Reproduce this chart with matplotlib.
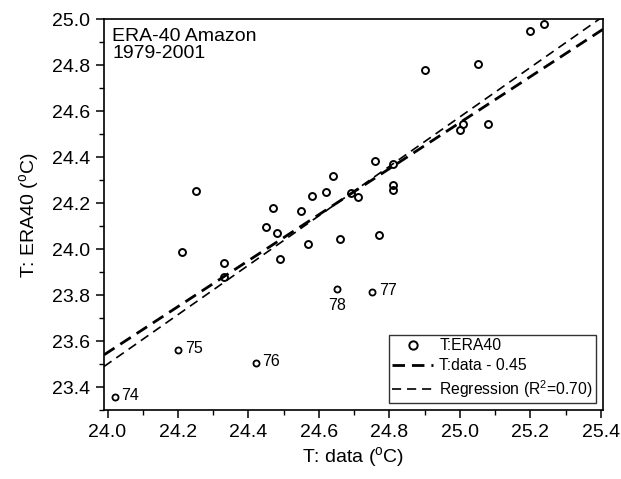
import matplotlib
matplotlib.use("Agg")
import matplotlib.pyplot as plt
import numpy as np
from matplotlib.ticker import MultipleLocator

plt.rcParams['font.family'] = ['Liberation Sans', 'DejaVu Sans']
plt.rcParams['mathtext.fontset'] = 'custom'
plt.rcParams['mathtext.rm'] = 'Liberation Sans'
plt.rcParams['mathtext.it'] = 'Liberation Sans:italic'

# data
t_data = [24.02, 24.20, 24.42, 24.75, 24.65, 24.21, 24.25, 24.33, 24.33, 24.45,
          24.47, 24.48, 24.49, 24.55, 24.57, 24.66, 24.58, 24.62, 24.64, 24.69,
          24.71, 24.76, 24.81, 24.81, 24.81, 24.77, 24.90, 25.05, 25.01, 25.00,
          25.08, 25.20, 25.24]
t_era40 = [23.356, 23.56, 23.506, 23.813, 23.825, 23.988, 24.254, 23.938, 23.88, 24.097,
           24.18, 24.071, 23.956, 24.167, 24.02, 24.043, 24.23, 24.25, 24.32, 24.245,
           24.228, 24.381, 24.37, 24.28, 24.258, 24.062, 24.777, 24.803, 24.542, 24.516,
           24.545, 24.95, 24.979]
year_labels = ['74', '75', '76', '77', '78']
offset = 0.45
reg_slope = 1.075
reg_x0 = 24.0
reg_y0 = 23.50

fig = plt.figure(figsize=(6.21, 4.79), dpi=100)
ax = fig.add_axes([0.1675, 0.144, 0.8035, 0.816])

xlim = (23.99, 25.406)
ax.set_xlim(*xlim)
ax.set_ylim(23.3, 25.0)

n_lab = len(year_labels)
ax.plot(t_data[n_lab:], t_era40[n_lab:], 'o', mfc='none', mec='black', mew=1.4, ms=5.0,
        label='T:ERA40', zorder=3)
ax.plot(t_data[:n_lab], t_era40[:n_lab], 'o', mfc='none', mec='black', mew=1.3, ms=4.4,
        zorder=3)
xx = np.array(xlim)
ax.plot(xx, xx - offset, color='black', lw=2.0, dashes=(4.5, 2.5),
        label='T:data - 0.45')
ax.plot(xx, reg_y0 + reg_slope * (xx - reg_x0), color='black', lw=1.2,
        dashes=(5.5, 3.5), label='Regression (R$^2$=0.70)')

# year annotations
for i, lab in enumerate(year_labels):
    if lab == '78':
        ax.annotate(lab, (t_data[i], t_era40[i]), xytext=(0, -6),
                    textcoords='offset points', ha='center', va='top', fontsize=11.5)
    else:
        ax.annotate(lab, (t_data[i], t_era40[i]), xytext=(5, 1),
                    textcoords='offset points', ha='left', va='center', fontsize=11.5)

ax.text(0.016, 0.977, 'ERA-40 Amazon\n1979-2001', transform=ax.transAxes,
        ha='left', va='top', fontsize=14, linespacing=1.0)

ax.xaxis.set_major_locator(MultipleLocator(0.2))
ax.xaxis.set_minor_locator(MultipleLocator(0.1))
ax.yaxis.set_major_locator(MultipleLocator(0.2))
ax.yaxis.set_minor_locator(MultipleLocator(0.1))
ax.xaxis.set_major_formatter(matplotlib.ticker.FormatStrFormatter('%.1f'))
ax.yaxis.set_major_formatter(matplotlib.ticker.FormatStrFormatter('%.1f'))
ax.tick_params(which='major', direction='out', length=6, width=1.1, labelsize=14, pad=4)
ax.tick_params(which='minor', direction='out', length=3.5, width=1.0)
for s in ax.spines.values():
    s.set_linewidth(1.2)

ax.set_xlabel('T: data ($^{\\rm o}$C)', fontsize=14, labelpad=3)
ax.set_ylabel('T: ERA40 ($^{\\rm o}$C)', fontsize=14, labelpad=8)

leg = ax.legend(loc='lower right', fontsize=11.3, frameon=True, fancybox=False,
                edgecolor='black', borderpad=0.2, labelspacing=0.32,
                handlelength=2.6, handletextpad=0.4, borderaxespad=0.45,
                markerscale=1.2)
leg.get_frame().set_linewidth(1.0)

fig.savefig('out.png', dpi=100)
